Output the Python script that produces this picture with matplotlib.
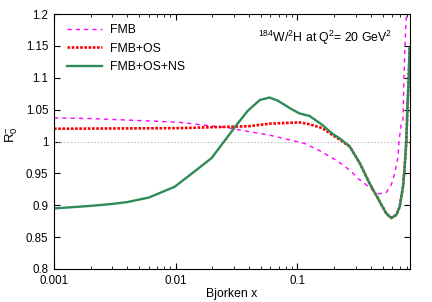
import matplotlib
matplotlib.use("Agg")
from matplotlib import pyplot as plt
from matplotlib.ticker import FixedLocator, LogLocator, NullFormatter

plt.rcParams['font.family'] = ['Liberation Sans', 'DejaVu Sans']
plt.rcParams['mathtext.fontset'] = 'custom'
plt.rcParams['mathtext.rm'] = 'Liberation Sans'
plt.rcParams['mathtext.it'] = 'Liberation Sans:italic'

# FMB (magenta dashed)
x_fmb = [0.001, 0.002, 0.0065, 0.0108, 0.0184, 0.026, 0.036, 0.059, 0.098,
         0.114, 0.158, 0.21, 0.237, 0.277, 0.314, 0.357, 0.405, 0.467,
         0.537, 0.59, 0.629, 0.67, 0.682, 0.714, 0.736, 0.75, 0.77, 0.785]
r_fmb = [1.037, 1.036, 1.032, 1.030, 1.025, 1.022, 1.017, 1.010, 1.000,
         0.997, 0.984, 0.970, 0.963, 0.953, 0.942, 0.934, 0.925, 0.918,
         0.920, 0.932, 0.950, 0.976, 1.000, 1.029, 1.034, 1.102, 1.164, 1.2]

# FMB+OS (red dotted)
x_os = [0.001, 0.0108, 0.04, 0.059, 0.104, 0.126, 0.16, 0.194, 0.222,
        0.269, 0.325, 0.392, 0.473, 0.537, 0.59, 0.65, 0.692, 0.736, 0.76,
        0.785, 0.80, 0.82, 0.835]
r_os = [1.020, 1.021, 1.024, 1.028, 1.030, 1.027, 1.021, 1.010, 1.003,
        0.992, 0.966, 0.934, 0.906, 0.887, 0.880, 0.885, 0.898, 0.929, 0.960,
        1.002, 1.05, 1.10, 1.147]

# FMB+OS+NS (green solid)
x_ns = [0.001, 0.002, 0.003, 0.004, 0.006, 0.0098, 0.013, 0.0197, 0.0316,
        0.039, 0.049, 0.059, 0.069, 0.089, 0.104, 0.126, 0.16, 0.194, 0.222,
        0.269, 0.325, 0.392, 0.473, 0.537, 0.59, 0.65, 0.692, 0.736, 0.76,
        0.785, 0.80, 0.82, 0.835]
r_ns = [0.895, 0.899, 0.902, 0.905, 0.912, 0.929, 0.947, 0.974, 1.026,
        1.048, 1.065, 1.069, 1.064, 1.051, 1.044, 1.040, 1.026, 1.012, 1.005,
        0.992, 0.966, 0.934, 0.906, 0.887, 0.880, 0.885, 0.898, 0.929, 0.960,
        1.002, 1.05, 1.10, 1.147]

y_ticks = [0.8, 0.85, 0.9, 0.95, 1, 1.05, 1.1, 1.15, 1.2]
y_labels = ['0.8', '0.85', '0.9', '0.95', '1', '1.05', '1.1', '1.15', '1.2']
x_ticks = [0.001, 0.01, 0.1]
x_labels = ['0.001', '0.01', '0.1']

fig = plt.figure(figsize=(4.32, 3.02), dpi=100)
ax = fig.add_axes([0.125, 0.1093, 0.824, 0.8443])

ax.axhline(1.0, color='#aaaaaa', lw=0.8, ls=(0, (1, 2)))
ax.plot(x_fmb, r_fmb, color='#ff00ff', lw=1.0, ls=(0, (3, 3)), label='FMB')
ax.plot(x_os, r_os, color='#ff0000', lw=1.9, ls=(0, (1, 0.6)), label='FMB+OS')
ax.plot(x_ns, r_ns, color='#2e8b57', lw=1.7, label='FMB+OS+NS')

ax.set_xscale('log')
ax.set_xlim(0.001, 0.84)
ax.set_ylim(0.8, 1.2)
ax.xaxis.set_major_locator(FixedLocator(x_ticks))
ax.set_xticklabels(x_labels)
ax.xaxis.set_minor_locator(LogLocator(base=10, subs=range(2, 10)))
ax.xaxis.set_minor_formatter(NullFormatter())
ax.set_yticks(y_ticks)
ax.set_yticklabels(y_labels)
ax.tick_params(which='both', direction='in', top=True, right=True,
               labelsize=8.3, pad=4)
ax.tick_params(which='major', length=4)
ax.tick_params(which='minor', length=2)

ax.set_xlabel('Bjorken x', fontsize=8.8, labelpad=1)
ax.set_ylabel('R$_0^{-}$', fontsize=9.5)
ax.yaxis.set_label_coords(-0.095, 0.525)

ax.text(0.949, 0.906, '$^{184}$W/$^{2}$H at Q$^{2}$= 20 GeV$^{2}$',
        transform=ax.transAxes, ha='right', va='center', fontsize=8.8)

ax.legend(loc='upper left', bbox_to_anchor=(0.012, 0.995), frameon=False,
          fontsize=8.8, handlelength=2.9, handletextpad=0.6, labelspacing=0.55,
          borderaxespad=0.3)

fig.savefig('out.png', dpi=100)
